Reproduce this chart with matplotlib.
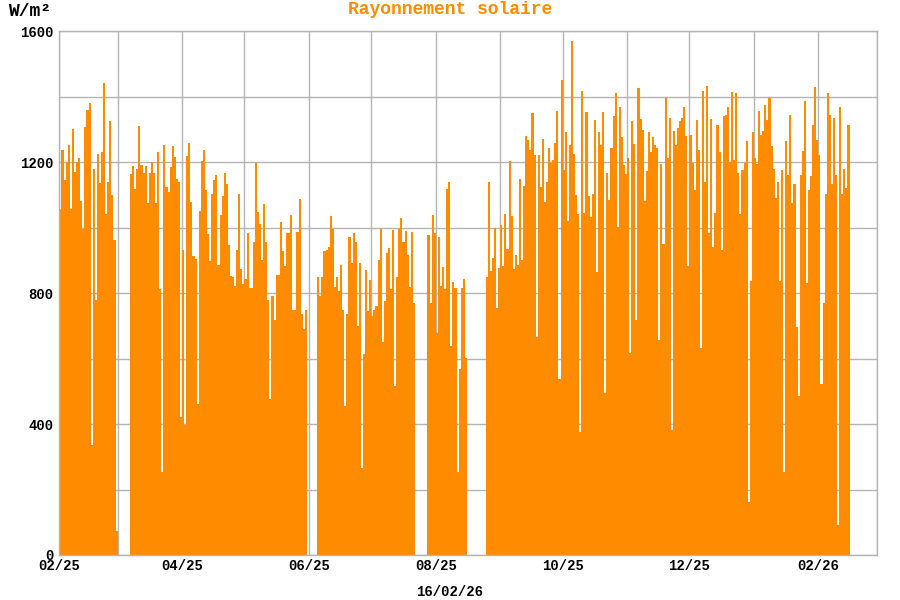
import pandas as pd
import matplotlib
matplotlib.use('Agg')
import matplotlib.pyplot as plt
import matplotlib.dates as mdates
from matplotlib.ticker import MultipleLocator

# --- CONFIGURATION ---
ORANGE = '#FF8C00'
GRIS = '#b4b4b4'
POLICE = 'Liberation Mono'

# Rayonnement solaire journalier max (W/m2), par periode sans trou de donnees
debut_1 = '2025-02-01'
ray_1 = [1056, 1238, 1144, 1201, 1251, 1058, 1300, 1170, 1199, 1214,
         1080, 997, 1307, 1360, 1381, 336, 1180, 780, 1224, 1137,
         1232, 1442, 1042, 1139, 1326, 1101, 962, 73]

debut_2 = '2025-03-07'
ray_2 = [1165, 1188, 1118, 1180, 1309, 1191, 1168, 1188, 1076, 1168,
         1199, 1168, 1076, 1232, 814, 253, 1251, 1123, 1108, 1186,
         1248, 1217, 1149, 1139, 423, 931, 398,
         1219, 1257, 1078, 913, 904, 461, 1050, 1204, 1238, 1115,
         980, 897, 1104, 1146, 1162, 886, 1040, 1097, 1168, 1133,
         947, 852, 850, 821, 933, 1102, 873, 829, 843, 983,
         816, 816, 955, 1196, 1047, 1010, 900, 1073, 955, 778,
         478, 790, 717, 855, 855, 1016, 929, 883, 983, 983,
         1040, 748, 748, 988, 1087, 735, 690, 748]

debut_3 = '2025-06-05'
ray_3 = [848, 792, 848, 929, 931, 941, 1037, 995, 818, 850,
         806, 887, 748, 456, 735, 971, 891, 983, 957, 699,
         891, 265, 614, 870, 744, 839, 731, 748, 762, 900,
         995, 650, 775, 922, 939, 811, 993, 517, 848, 995,
         1030, 957, 991, 915, 818, 988, 770]

debut_4 = '2025-07-28'
ray_4 = [978, 770, 1040, 983, 679, 972, 821, 881, 813, 1117,
         1139, 638, 835, 816, 253, 567, 816, 844, 601]

debut_5 = '2025-08-25'
ray_5 = [848, 1139, 866, 907, 1000, 754, 877, 1009, 882, 1042,
         935, 1204, 1037, 874, 917, 886, 1148, 900, 1128, 1279,
         1269, 1238, 1349, 1222, 666, 1222, 1123, 1272, 1078, 1139,
         1243, 1198, 1206, 1257, 1357, 539, 1450, 1175, 1293, 1019,
         1251, 1570, 1226, 1100, 1042, 376, 1418, 1045, 1354, 1097,
         1032, 1102, 1329, 863, 1293, 1251, 1353, 496, 1168, 1083,
         1243, 1340, 1410, 1002, 1368, 1278, 1191, 1163, 1214, 616,
         1326, 1255, 718, 1427, 1331, 1298, 1080, 1172, 1293, 1232,
         1278, 1251, 1243, 658, 1193, 950, 1397, 1214, 1335, 383,
         1295, 1253, 1305, 1326, 1334, 1367, 1281, 883, 1282, 1197,
         1115, 1328, 1238, 633, 1418, 1140, 1433, 985, 1333, 942,
         1045, 1312, 1232, 933, 1342,
         1344, 1368, 1201, 1414, 1206, 1411, 1168, 1042, 1176, 1198,
         1264, 161, 837, 1293, 1214, 1193, 1356, 1284, 1296, 1375,
         1330, 1396, 1248, 1179, 1089, 1139, 837, 1175, 255, 1264,
         1162, 1345, 1074, 1133, 697, 486, 1160, 1234, 1387, 830,
         1115, 1157, 1313, 1430, 1269, 1222, 523, 770, 1102, 1411,
         1343, 1134, 1336, 1160, 93, 1368, 1104, 1180, 1120, 1312]

periodes = [(debut_1, ray_1), (debut_2, ray_2), (debut_3, ray_3),
            (debut_4, ray_4), (debut_5, ray_5)]

dates = []
valeurs = []
for debut, vals in periodes:
    dates.extend(pd.date_range(debut, periods=len(vals), freq='D'))
    valeurs.extend(vals)

fig = plt.figure(figsize=(9, 6), dpi=100)
ax = fig.add_axes([0.066, 0.075, 0.908, 0.873])

ax.bar(dates, valeurs, width=1.0, align='edge', color=ORANGE,
       linewidth=0, antialiased=False)

ax.set_xlim(pd.Timestamp('2025-02-01'), pd.Timestamp('2026-03-01'))
ax.set_ylim(0, 1600)

ax.xaxis.set_major_locator(mdates.MonthLocator(bymonth=[2, 4, 6, 8, 10, 12]))
ax.xaxis.set_minor_locator(mdates.MonthLocator())
ax.xaxis.set_major_formatter(mdates.DateFormatter('%m/%y'))
ax.yaxis.set_major_locator(MultipleLocator(400))
ax.yaxis.set_minor_locator(MultipleLocator(200))

ax.set_axisbelow(True)
ax.grid(True, which='both', color=GRIS, linewidth=1)
for sp in ax.spines.values():
    sp.set_color(GRIS)
    sp.set_linewidth(1)

ax.tick_params(which='both', length=0)
ax.tick_params(axis='y', pad=4)
ax.tick_params(axis='x', pad=3)
for lab in ax.get_xticklabels() + ax.get_yticklabels():
    lab.set_fontfamily(POLICE)
    lab.set_fontweight('bold')
    lab.set_fontsize(10)

fig.text(0.5, 1 - 10 / 600, 'Rayonnement solaire', color=ORANGE,
         ha='center', va='center', fontsize=13, family=POLICE, fontweight='bold')
fig.text(8 / 900, 1 - 12 / 600, 'W/m²', color='black', ha='left', va='center',
         fontsize=13, family=POLICE, fontweight='bold')
fig.text(0.5, 1 - 592 / 600, '16/02/26', color='black', ha='center', va='center',
         fontsize=10, family=POLICE, fontweight='bold')

fig.savefig('out.png', dpi=100, facecolor='white')
